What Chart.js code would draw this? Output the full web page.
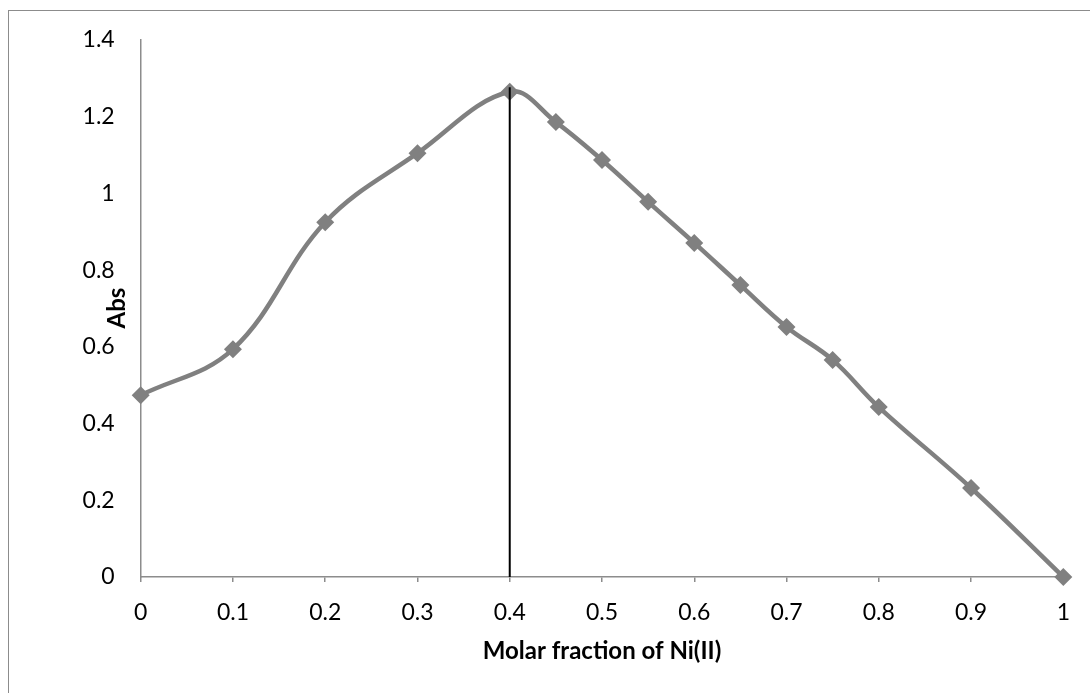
<!DOCTYPE html>
<html>
<head>
<meta charset="utf-8">
<script src="https://cdn.jsdelivr.net/npm/chart.js@4.4.1/dist/chart.umd.min.js"></script>
<style>
  html, body { margin: 0; padding: 0; background: #ffffff; }
  #wrap { width: 1090px; height: 693px; position: relative; }
</style>
</head>
<body>
<div id="wrap"><canvas id="c" width="1090" height="693"></canvas></div>
<script>
// Molar fraction of Ni(II) (Job's method) and measured absorbance
const molarFraction = [0, 0.1, 0.2, 0.3, 0.4, 0.45, 0.5, 0.55, 0.6, 0.65, 0.7, 0.75, 0.8, 0.9, 1];
const absorbance = [0.474, 0.594, 0.925, 1.105, 1.265, 1.186, 1.087, 0.978, 0.871, 0.761, 0.652, 0.566, 0.443, 0.232, 0];

// Vertical marker at the absorbance maximum
const guideX = 0.4;
const guideY = [0, 1.277];

// Axis ranges and titles
const xTicks = [0, 0.1, 0.2, 0.3, 0.4, 0.5, 0.6, 0.7, 0.8, 0.9, 1];
const yTicks = [0, 0.2, 0.4, 0.6, 0.8, 1, 1.2, 1.4];
const xTitle = 'Molar fraction of Ni(II)';
const yTitle = 'Abs';

const FONT = 'Lato, "Open Sans", sans-serif';
const AXIS_GRAY = '#8c8c8c';

const curve = molarFraction.map((x, i) => ({ x: x, y: absorbance[i] }));
const guide = guideY.map(y => ({ x: guideX, y: y }));

// Outer frame and axis titles drawn on the canvas
const decor = {
  id: 'decor',
  beforeDraw(chart) {
    const ctx = chart.ctx;
    ctx.save();
    ctx.fillStyle = '#ffffff';
    ctx.fillRect(0, 0, chart.width, chart.height);
    ctx.strokeStyle = AXIS_GRAY;
    ctx.lineWidth = 1;
    ctx.strokeRect(8.5, 10.5, 1200, 800);
    ctx.restore();
  },
  afterDraw(chart) {
    const ctx = chart.ctx;
    const a = chart.chartArea;
    ctx.save();
    ctx.fillStyle = '#000000';
    ctx.font = 'bold 24px ' + FONT;
    ctx.textAlign = 'center';
    ctx.textBaseline = 'middle';
    ctx.fillText(xTitle, (a.left + a.right) / 2, 651);
    ctx.translate(117, 308);
    ctx.rotate(-Math.PI / 2);
    ctx.fillText(yTitle, 0, 0);
    ctx.restore();
  }
};

new Chart(document.getElementById('c'), {
  type: 'scatter',
  data: {
    datasets: [
      {
        data: guide,
        showLine: true,
        borderColor: '#000000',
        borderWidth: 2,
        pointRadius: 0,
        tension: 0,
        clip: false,
        order: 1
      },
      {
        data: curve,
        showLine: true,
        borderColor: '#808080',
        backgroundColor: '#808080',
        borderWidth: 4.5,
        tension: 0.38,
        pointStyle: 'rectRot',
        pointRadius: 9,
        pointBorderWidth: 0,
        pointBackgroundColor: '#808080',
        clip: false,
        order: 2
      }
    ]
  },
  options: {
    responsive: false,
    animation: false,
    devicePixelRatio: 1,
    layout: { padding: { left: 0, right: 26.7, top: 40, bottom: 0 } },
    plugins: {
      legend: { display: false },
      tooltip: { enabled: false }
    },
    scales: {
      x: {
        type: 'linear',
        min: 0,
        max: 1,
        afterBuildTicks(scale) { scale.ticks = xTicks.map(v => ({ value: v })); },
        afterFit(scale) { scale.height = 693 - 577; },
        grid: { display: true, drawOnChartArea: false, drawTicks: true, tickLength: 5, color: AXIS_GRAY, lineWidth: 1.5 },
        border: { display: true, color: AXIS_GRAY, width: 1.5 },
        ticks: {
          color: '#000000',
          font: { family: FONT, size: 23 },
          padding: 17,
          maxRotation: 0,
          autoSkip: false,
          callback: v => String(Math.round(v * 10) / 10)
        }
      },
      y: {
        type: 'linear',
        min: 0,
        max: 1.4,
        afterBuildTicks(scale) { scale.ticks = yTicks.map(v => ({ value: v })); },
        afterFit(scale) { scale.width = 140.7; },
        grid: { display: false, drawTicks: false },
        border: { display: true, color: AXIS_GRAY, width: 1.5 },
        ticks: {
          color: '#000000',
          font: { family: FONT, size: 23 },
          padding: 26,
          autoSkip: false,
          callback: v => String(Math.round(v * 10) / 10)
        }
      }
    }
  },
  plugins: [decor]
});
</script>
</body>
</html>
